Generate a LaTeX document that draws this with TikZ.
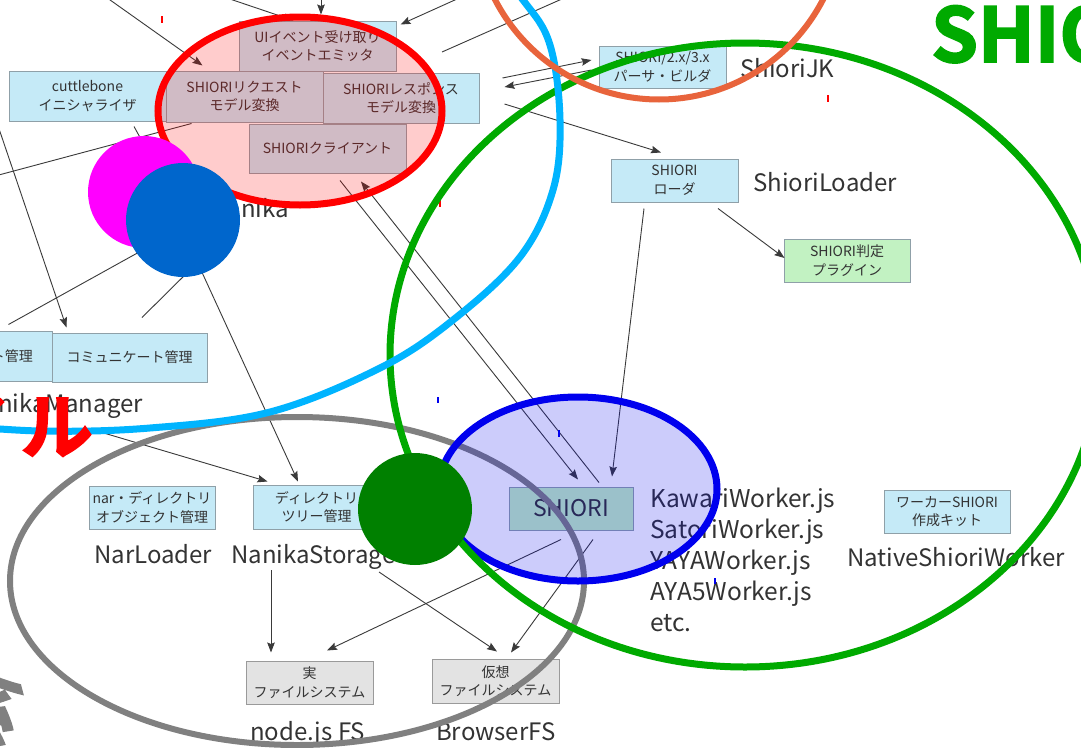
\documentclass[tikz,border=0pt]{standalone}
\usepackage{fontspec}
\setmainfont{Noto Sans CJK JP}
\newfontfamily\heavyfont[UprightFont={* Bold}, FakeBold=2.5]{Noto Sans CJK JP}
\usetikzlibrary{arrows.meta,calc}
\definecolor{boxblue}{HTML}{C5EAF7}
\definecolor{boxedge}{HTML}{8FA0A8}
\definecolor{plugfill}{HTML}{C2F2C2}
\definecolor{fsfill}{HTML}{E3E3E3}
\definecolor{fsedge}{HTML}{9A9A9A}
\definecolor{txt}{HTML}{333333}
\definecolor{linec}{HTML}{3A3A3A}
\definecolor{skyb}{HTML}{00B4FF}
\definecolor{orng}{HTML}{E8643C}
\definecolor{grn}{HTML}{00AA00}
\definecolor{dkgrn}{HTML}{008000}
\definecolor{blu}{HTML}{0000EE}
\definecolor{mag}{HTML}{FF00FF}
\definecolor{circblue}{HTML}{0066CC}
\definecolor{greyring}{HTML}{808080}
\begin{document}
\begin{tikzpicture}[x=1pt,y=-1pt,
  conn/.style={draw=linec, line width=0.9pt},
  arr/.style={conn, -{Stealth[length=10pt,width=7.5pt,inset=1.5pt]}},
  bx/.style={draw=boxedge, line width=1pt, fill=boxblue, inner sep=0pt, align=center, text=txt, font=\fontsize{14}{18.5}\selectfont},
  fsbx/.style={bx, draw=fsedge, fill=fsfill},
  lbl/.style={inner sep=0pt, text=txt, font=\fontsize{24}{31}\selectfont},
  ringline/.style={line width=7pt},
  tick/.style={line width=1.2pt}]

\useasboundingbox (0,0) rectangle (1081,747);
\fill[white] (0,0) rectangle (1081,747);
\clip (0,0) rectangle (1081,747);

% ---------- boxes ----------
\node[bx, minimum width=157pt, minimum height=50pt] (ui) at (317.5,46) {UIイベント受け取り\\イベントエミッタ};
\node[bx, minimum width=157pt, minimum height=50pt] (cuttle) at (87.5,96) {cuttlebone\\イニシャライザ};
\node[bx, minimum width=157pt, minimum height=51pt] (req) at (244.5,96.5) {SHIORIリクエスト\\モデル変換};
\node[bx, minimum width=156pt, minimum height=50pt] (resp) at (401,98) {SHIORIレスポンス\\モデル変換};
\node[bx, minimum width=157pt, minimum height=49pt] (client) at (327.5,148.5) {SHIORIクライアント};
\node[bx, minimum width=157pt, minimum height=50pt] (kanri) at (-26.5,356) {};
\node[inner sep=0pt, text=txt, font=\fontsize{14}{18.5}\selectfont, anchor=east] (kanrit) at (33,356) {ト管理};
\node[bx, minimum width=155pt, minimum height=49pt] (comm) at (129.5,357.5) {コミュニケート管理};
\node[bx, minimum width=127pt, minimum height=42pt] (parser) at (662.5,67) {SHIORI/2.x/3.x\\パーサ・ビルダ};
\node[bx, minimum width=127pt, minimum height=43pt] (loader) at (674.5,180.5) {SHIORI\\ローダ};
\node[bx, fill=plugfill, minimum width=126pt, minimum height=43pt] (plugin) at (847,260.5) {SHIORI判定\\プラグイン};
\node[bx, fill=plugfill, minimum width=124pt, minimum height=43pt, font=\fontsize{23}{26}\selectfont] (shiori) at (571,508.5) {SHIORI};
\node[bx, minimum width=126pt, minimum height=43pt] (kit) at (947,511.5) {ワーカーSHIORI\\作成キット};
\node[bx, minimum width=126pt, minimum height=43pt] (nar) at (152,507.5) {nar・ディレクトリ\\オブジェクト管理};
\node[bx, minimum width=127pt, minimum height=44pt] (tree) at (316.5,507) {ディレクトリ\\ツリー管理};
\node[fsbx, minimum width=127pt, minimum height=43pt] (realfs) at (309.5,682.5) {実\\ファイルシステム};
\node[fsbx, minimum width=127pt, minimum height=44pt] (virtfs) at (495.5,681) {仮想\\ファイルシステム};

% ---------- labels ----------
\node[lbl, anchor=base west] (nanika) at (210,217) {Nanika};
\node[lbl, anchor=base east] (manager) at (143,412) {NanikaManager};
\node[lbl, anchor=base west] (jk) at (740,77) {ShioriJK};
\node[lbl, anchor=base west] (sl) at (753,191) {ShioriLoader};
\node[lbl, anchor=base west] (narl) at (94,563) {NarLoader};
\node[lbl, anchor=base west] (storage) at (231,563) {NanikaStorage};
\node[lbl, anchor=base west] (nodefs) at (250,740) {node.js FS};
\node[lbl, anchor=base west] (bfs) at (436,740) {BrowserFS};
\node[lbl, anchor=base west, font=\fontsize{24.5}{31}\selectfont] (w1) at (650,507) {KawariWorker.js};
\node[lbl, anchor=base west, font=\fontsize{24.5}{31}\selectfont] (w2) at (650,538) {SatoriWorker.js};
\node[lbl, anchor=base west, font=\fontsize{24.5}{31}\selectfont] (w3) at (650,569) {YAYAWorker.js};
\node[lbl, anchor=base west, font=\fontsize{24.5}{31}\selectfont] (w4) at (650,600) {AYA5Worker.js};
\node[lbl, anchor=base west, font=\fontsize{24.5}{31}\selectfont] (w5) at (650,631) {etc.};
\node[lbl, anchor=base west] (native) at (847,566) {NativeShioriWorker};

% ---------- free ends ----------
\coordinate (f1) at (96,-10);
\coordinate (f2) at (218,-5);
\coordinate (f3) at (321,-5);
\coordinate (f4) at (477,-10);
\coordinate (f5a) at (442,52);
\coordinate (f5b) at (580,-9);
\coordinate (f17) at (200,268);
\coordinate (f18) at (97,431);
\coordinate (f19) at (-5,117);
\coordinate (f20) at (-5,176);
\coordinate (f21) at (158,170);
\coordinate (f22) at (150,246);
\coordinate (f23) at (195,265);

% ---------- connectors ----------
\draw[arr] (f1) -- ([xshift=37pt,yshift=5pt]req.north west);
\draw[arr] (f2) -- ([xshift=55pt]ui.north west);
\draw[arr] (f3) -- ([xshift=3.5pt,yshift=6pt]ui.north);
\draw[arr] (f4) -- ([xshift=4pt,yshift=-4pt]ui.north east);
\draw[conn] (f5a) -- (f5b);
\draw[arr] ([xshift=23pt,yshift=20pt]resp.east) -- ([xshift=-7pt,yshift=7pt]parser.west);
\draw[arr] ([xshift=-7pt,yshift=-3pt]parser.west) -- ([xshift=25pt,yshift=11pt]resp.east);
\draw[arr] ([xshift=25pt,yshift=-6pt]resp.east) -- ([xshift=-13.5pt,yshift=6pt]loader.north);
\draw[arr] ([xshift=43.5pt,yshift=-6pt]loader.south) -- ([xshift=1pt,yshift=2.5pt]plugin.west);
\draw[arr] ([xshift=-30.5pt,yshift=-6pt]loader.south) -- ([xshift=41pt,yshift=10pt]shiori.north);
\draw[arr] ([xshift=12.5pt,yshift=-7pt]client.south) -- ([xshift=7pt,yshift=7pt]shiori.north);
\draw[arr] ([xshift=28pt,yshift=4pt]shiori.north) -- ([xshift=33.5pt,yshift=-8pt]client.south);
\draw[arr] ([xshift=-10pt,yshift=-9pt]shiori.south) -- ([xshift=17.5pt,yshift=10pt]realfs.north);
\draw[arr] ([xshift=22pt,yshift=-9pt]shiori.south) -- ([xshift=15.5pt,yshift=6pt]virtfs.north);
\draw[arr] ([xshift=40pt,yshift=-7pt]storage.base west) -- ([xshift=-38.5pt,yshift=8pt]realfs.north);
\draw[arr] ([xshift=148pt,yshift=-9pt]storage.base west) -- ([xshift=1.5pt,yshift=7pt]virtfs.north);
\draw[arr] (f17) -- ([xshift=-18.5pt,yshift=3pt]tree.north);
\draw[arr] (f18) -- ([xshift=15pt,yshift=3pt]tree.north west);
\draw[arr] (f19) -- ([xshift=15pt,yshift=5pt]comm.north west);
\draw[conn] (f20) -- ([xshift=26pt,yshift=-1pt]req.south west);
\draw[conn] ([xshift=46.5pt,yshift=-5pt]cuttle.south) -- (f21);
\draw[conn] ([xshift=-44pt,yshift=6pt]kanri.north east) -- (f22);
\draw[conn] ([xshift=12.5pt,yshift=15pt]comm.north) -- (f23);

% tiny marks
\draw[tick, red] (162,16) -- (162,23);
\draw[tick, red] (828,95) -- (828,102);
\draw[tick, red] (440,200) -- (440,207);
\draw[tick, blu] (438,397) -- (438,403);
\draw[tick, blu] (559,430) -- (559,437);
\draw[tick, blu] (715,578) -- (715,584);

% ---------- overlay rings ----------
\draw[greyring, line width=6pt] (297,581) ellipse [x radius=287pt, y radius=164pt];
\draw[blu, ringline, fill=blu, fill opacity=0.2] (578,489) ellipse [x radius=139pt, y radius=92pt];
\draw[grn, ringline] (745,355) ellipse [x radius=355pt, y radius=312pt];
\draw[red, ringline, fill=red, fill opacity=0.2] (300,111) ellipse [x radius=142pt, y radius=94pt];
\draw[skyb, ringline] plot[smooth, tension=0.6] coordinates {(470,-60) (523,0) (550,45) (560,120) (553,190) (520,257) (453,320) (380,368) (270,412) (150,428) (40,431) (-60,424)};
\draw[orng, line width=6pt] (659,-85) circle [radius=184.5pt];

% ---------- circles ----------
\fill[mag] (144,192) circle [radius=56pt];
\fill[circblue] (183,220) circle [radius=57pt];
\fill[dkgrn] (415,509) ellipse [x radius=57pt, y radius=56pt];

% ---------- big labels ----------
\node[inner sep=0pt, anchor=base west, text=grn, font=\heavyfont\fontsize{75}{80}\selectfont] (bigshiori) at (931,62) {SHIORI};
\node[inner sep=0pt, anchor=base east, text=red, font=\heavyfont\fontsize{72}{76}\selectfont] (bigru) at (93,453) {ル};
\node[inner sep=0pt, anchor=base east, text=red, font=\heavyfont\fontsize{72}{76}\selectfont] (bigi) at ([xshift=-9pt]bigru.base west) {イ};
\node[inner sep=0pt, text=greyring, rotate=-25, font=\heavyfont\fontsize{72}{76}\selectfont] (bigkei) at (-14,706) {系};
\end{tikzpicture}
\end{document}
